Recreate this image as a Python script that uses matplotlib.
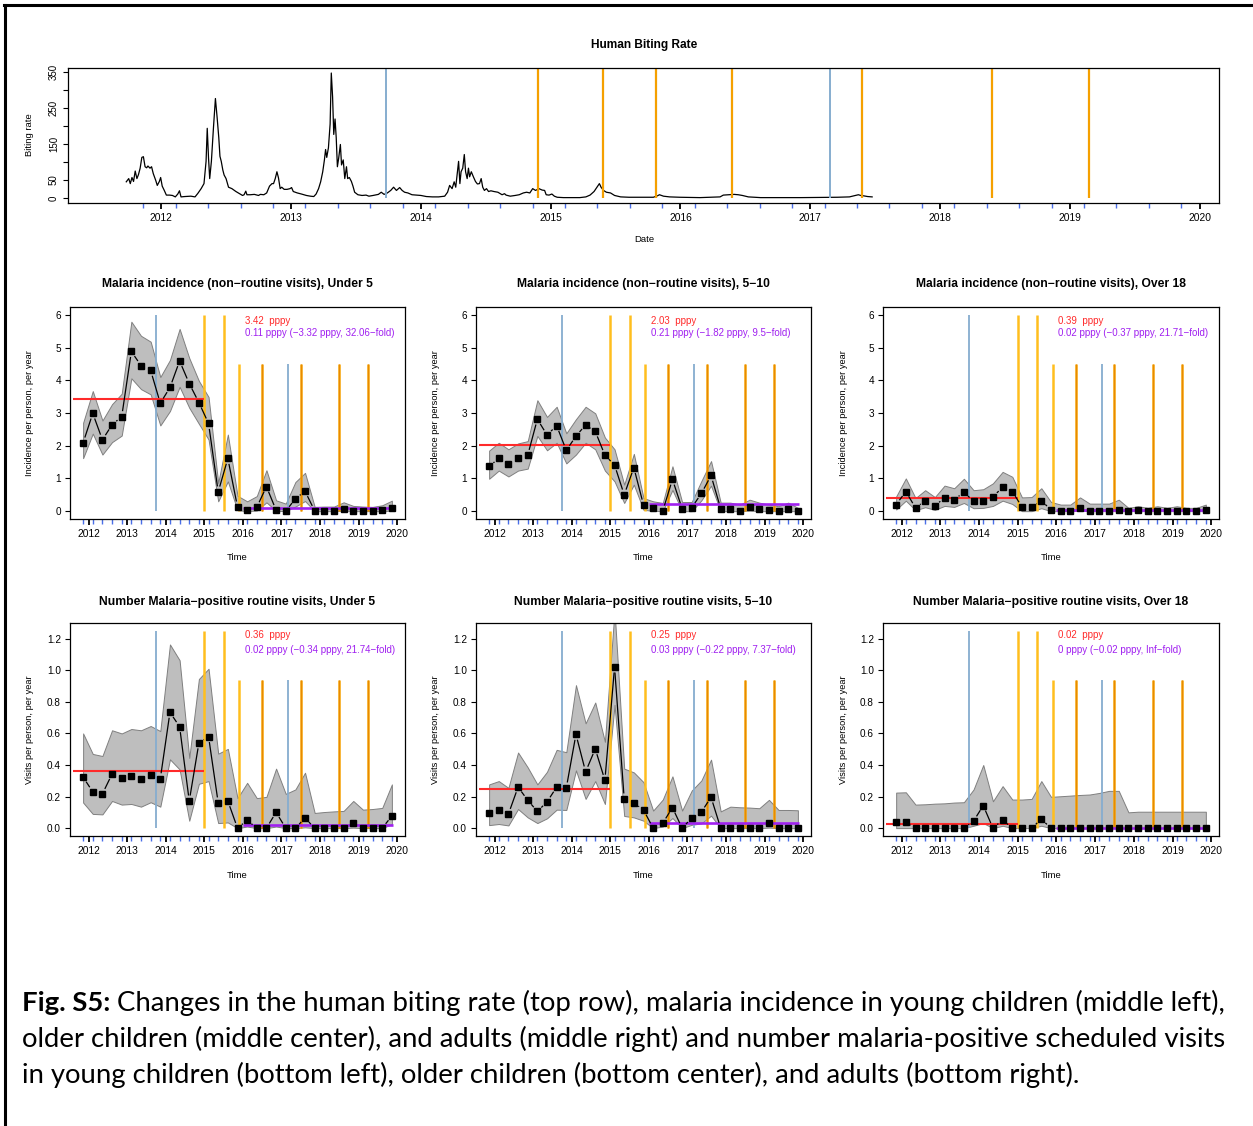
import numpy as np
import matplotlib.pyplot as plt
from matplotlib.lines import Line2D

plt.rcParams['font.family'] = ['Liberation Sans', 'DejaVu Sans']

W, H = 1253, 1126

# ---- human biting rate series (year, rate) ----
hbr_t = [2011.729, 2011.748, 2011.760, 2011.773, 2011.785, 2011.798, 2011.811, 2011.823, 2011.836, 2011.849,
         2011.861, 2011.874, 2011.886, 2011.896, 2011.912, 2011.924, 2011.937, 2011.956, 2011.968, 2011.984,
         2011.994, 2012.006, 2012.022, 2012.038, 2012.063, 2012.085, 2012.107, 2012.126, 2012.139, 2012.151,
         2012.180, 2012.227, 2012.259, 2012.281, 2012.306, 2012.328, 2012.344, 2012.353, 2012.363, 2012.372,
         2012.385, 2012.401, 2012.416, 2012.429, 2012.442, 2012.451, 2012.461, 2012.473, 2012.483, 2012.498,
         2012.517, 2012.543, 2012.574, 2012.606, 2012.625, 2012.637, 2012.650, 2012.659, 2012.685, 2012.716,
         2012.748, 2012.763, 2012.789, 2012.811, 2012.833, 2012.852, 2012.864, 2012.877, 2012.890, 2012.902,
         2012.915, 2012.927, 2012.946, 2012.968, 2012.991, 2013.003, 2013.016, 2013.047, 2013.079, 2013.117,
         2013.148, 2013.174, 2013.192, 2013.211, 2013.227, 2013.243, 2013.256, 2013.265, 2013.274, 2013.287,
         2013.300, 2013.309, 2013.319, 2013.328, 2013.338, 2013.347, 2013.356, 2013.366, 2013.379, 2013.388,
         2013.401, 2013.413, 2013.426, 2013.435, 2013.448, 2013.464, 2013.476, 2013.489, 2013.514, 2013.546,
         2013.577, 2013.599, 2013.631, 2013.672, 2013.694, 2013.716, 2013.741, 2013.767, 2013.789, 2013.811,
         2013.836, 2013.855, 2013.874, 2013.899, 2013.931, 2013.962, 2014.000, 2014.041, 2014.088, 2014.136,
         2014.183, 2014.205, 2014.221, 2014.240, 2014.256, 2014.268, 2014.281, 2014.290, 2014.300, 2014.309,
         2014.322, 2014.334, 2014.344, 2014.356, 2014.366, 2014.375, 2014.388, 2014.404, 2014.420, 2014.435,
         2014.451, 2014.464, 2014.476, 2014.489, 2014.505, 2014.521, 2014.539, 2014.562, 2014.593, 2014.625,
         2014.644, 2014.656, 2014.688, 2014.726, 2014.757, 2014.789, 2014.814, 2014.839, 2014.861, 2014.883,
         2014.909, 2014.934, 2014.953, 2014.965, 2014.987, 2015.009, 2015.028, 2015.050, 2015.098, 2015.161,
         2015.224, 2015.271, 2015.303, 2015.334, 2015.356, 2015.375, 2015.388, 2015.407, 2015.429, 2015.461,
         2015.492, 2015.539, 2015.603, 2015.713, 2015.791, 2015.822, 2015.838, 2015.869, 2015.916, 2015.994,
         2016.150, 2016.305, 2016.330, 2016.368, 2016.414, 2016.445, 2016.477, 2016.523, 2016.617, 2016.928,
         2017.209, 2017.302, 2017.349, 2017.371, 2017.389, 2017.411, 2017.442, 2017.477]
hbr_y = [45, 54, 40, 57, 46, 75, 54, 65, 83, 113,
         115, 87, 84, 89, 83, 87, 68, 49, 35, 46,
         57, 33, 21, 8, 8, 7, 3, 11, 20, 3,
         4, 5, 3, 13, 26, 40, 102, 194, 111, 54,
         102, 196, 277, 225, 168, 116, 102, 78, 64, 54,
         30, 26, 18, 11, 7, 9, 19, 9, 9, 10,
         7, 10, 9, 14, 33, 40, 40, 54, 73, 56,
         26, 30, 24, 24, 26, 29, 18, 14, 11, 7,
         5, 4, 11, 26, 45, 73, 106, 135, 113, 140,
         206, 348, 282, 177, 220, 168, 87, 111, 149, 92,
         106, 54, 87, 54, 57, 46, 33, 16, 9, 7,
         8, 5, 7, 10, 16, 10, 14, 21, 30, 21,
         29, 21, 16, 14, 9, 8, 7, 4, 3, 3,
         5, 16, 35, 26, 45, 30, 73, 102, 40, 73,
         83, 121, 73, 54, 83, 59, 73, 59, 46, 39,
         40, 54, 30, 21, 26, 18, 20, 18, 16, 9,
         12, 8, 5, 7, 9, 14, 16, 14, 26, 21,
         26, 22, 21, 9, 8, 11, 5, 2, 1, 1,
         1, 3, 8, 18, 30, 40, 30, 21, 16, 14,
         7, 3, 2, 2, 2, 6, 9, 5, 3, 2,
         1, 3, 8, 9, 10, 9, 7, 3, 1, 1,
         2, 3, 7, 9, 7, 6, 4, 3]

hbr_blue = [2013.73, 2017.15]
hbr_orange = [2014.905, 2015.40, 2015.815, 2016.40, 2017.40, 2018.40, 2019.15]
hbr_quarters = [2011.86, 2012.11, 2012.36, 2012.61, 2012.86, 2013.11, 2013.36, 2013.61, 2013.86,
                2014.11, 2014.36, 2014.61, 2014.86, 2015.11, 2015.36, 2015.61, 2015.86,
                2016.11, 2016.36, 2016.61, 2016.86, 2017.11, 2017.36, 2017.61, 2017.86,
                2018.11, 2018.36, 2018.61, 2018.86, 2019.11, 2019.36, 2019.61, 2019.86]
years = [2012, 2013, 2014, 2015, 2016, 2017, 2018, 2019, 2020]

# ---- quarterly panels ----
quarters = hbr_quarters

inc_u5 = [2.09, 2.99, 2.18, 2.64, 2.89, 4.88, 4.45, 4.30, 3.30, 3.78, 4.59, 3.90, 3.32, 2.68, 0.59, 1.61, 0.13,
          0.03, 0.12, 0.75, 0.03, 0.00, 0.38, 0.61, 0.01, 0.01, 0.00, 0.07, 0.01, 0.00, 0.00, 0.03, 0.09]
inc_u5_hi = [2.70, 3.67, 2.77, 3.27, 3.59, 5.79, 5.36, 5.18, 4.10, 4.62, 5.57, 4.68, 3.98, 3.49, 0.86, 2.34, 0.47,
             0.30, 0.46, 1.25, 0.33, 0.23, 0.89, 1.17, 0.13, 0.14, 0.14, 0.27, 0.16, 0.14, 0.13, 0.18, 0.32]
inc_u5_lo = [1.62, 2.37, 1.73, 2.11, 2.31, 4.06, 3.73, 3.57, 2.62, 3.06, 3.80, 3.16, 2.67, 2.19, 0.30, 0.91, 0.03,
             0.00, 0.02, 0.27, 0.01, 0.00, 0.14, 0.31, 0.00, 0.00, 0.00, 0.02, 0.00, 0.00, 0.00, 0.00, 0.02]

inc_510 = [1.37, 1.61, 1.44, 1.61, 1.71, 2.81, 2.33, 2.61, 1.86, 2.29, 2.64, 2.44, 1.71, 1.41, 0.50, 1.33, 0.19,
           0.11, 0.01, 0.97, 0.08, 0.11, 0.54, 1.09, 0.08, 0.08, 0.00, 0.12, 0.08, 0.02, 0.00, 0.08, 0.00]
inc_510_hi = [1.85, 2.09, 1.89, 2.07, 2.14, 3.39, 2.88, 3.19, 2.38, 2.81, 3.19, 2.99, 2.25, 1.89, 0.81, 1.75, 0.40,
              0.30, 0.25, 1.37, 0.28, 0.28, 0.92, 1.53, 0.26, 0.26, 0.20, 0.35, 0.26, 0.20, 0.15, 0.26, 0.10]
inc_510_lo = [0.99, 1.24, 1.06, 1.24, 1.30, 2.30, 1.86, 2.09, 1.46, 1.73, 2.09, 1.89, 1.24, 0.91, 0.25, 0.81, 0.04,
              0.01, 0.00, 0.65, 0.00, 0.00, 0.33, 0.78, 0.00, 0.00, 0.00, 0.02, 0.00, 0.00, 0.00, 0.00, 0.00]

inc_o18 = [0.20, 0.60, 0.10, 0.32, 0.16, 0.41, 0.35, 0.58, 0.30, 0.32, 0.44, 0.73, 0.60, 0.13, 0.13, 0.32, 0.04,
           0.00, 0.00, 0.10, 0.00, 0.00, 0.00, 0.04, 0.00, 0.02, 0.00, 0.01, 0.00, 0.01, 0.00, 0.00, 0.04]
inc_o18_hi = [0.45, 1.00, 0.40, 0.64, 0.43, 0.78, 0.70, 0.99, 0.64, 0.67, 0.85, 1.20, 1.05, 0.42, 0.43, 0.70, 0.28,
              0.20, 0.20, 0.42, 0.23, 0.23, 0.23, 0.35, 0.10, 0.15, 0.10, 0.15, 0.10, 0.15, 0.10, 0.10, 0.20]
inc_o18_lo = [0.05, 0.32, 0.03, 0.12, 0.04, 0.16, 0.13, 0.25, 0.09, 0.10, 0.16, 0.32, 0.22, 0.00, 0.00, 0.09, 0.00,
              0.00, 0.00, 0.01, 0.00, 0.00, 0.00, 0.00, 0.00, 0.00, 0.00, 0.00, 0.00, 0.00, 0.00, 0.00, 0.00]

rv_u5 = [0.323, 0.230, 0.217, 0.343, 0.317, 0.332, 0.313, 0.338, 0.313, 0.734, 0.643, 0.172, 0.540, 0.580, 0.160,
         0.172, 0.000, 0.050, 0.000, 0.000, 0.100, 0.000, 0.000, 0.064, 0.000, 0.000, 0.000, 0.000, 0.032, 0.000,
         0.000, 0.000, 0.077]
rv_u5_hi = [0.600, 0.470, 0.457, 0.620, 0.600, 0.628, 0.620, 0.647, 0.615, 1.164, 1.064, 0.445, 0.945, 1.010, 0.472,
            0.502, 0.190, 0.287, 0.190, 0.198, 0.377, 0.217, 0.245, 0.351, 0.096, 0.102, 0.106, 0.109, 0.172, 0.117,
            0.121, 0.128, 0.277]
rv_u5_lo = [0.162, 0.090, 0.087, 0.172, 0.149, 0.153, 0.136, 0.164, 0.136, 0.436, 0.372, 0.047, 0.281, 0.298, 0.032,
            0.036, 0.000, 0.010, 0.000, 0.000, 0.010, 0.000, 0.000, 0.005, 0.000, 0.000, 0.000, 0.000, 0.003, 0.000,
            0.000, 0.000, 0.025]

rv_510 = [0.096, 0.115, 0.089, 0.260, 0.177, 0.106, 0.166, 0.260, 0.255, 0.594, 0.357, 0.502, 0.304, 1.021, 0.185,
          0.160, 0.115, 0.000, 0.032, 0.130, 0.000, 0.064, 0.102, 0.196, 0.000, 0.000, 0.000, 0.000, 0.000, 0.032,
          0.000, 0.000, 0.000]
rv_510_hi = [0.277, 0.298, 0.255, 0.479, 0.385, 0.277, 0.357, 0.496, 0.481, 0.906, 0.664, 0.796, 0.547, 1.380, 0.377,
             0.353, 0.291, 0.111, 0.181, 0.328, 0.111, 0.238, 0.302, 0.434, 0.106, 0.136, 0.132, 0.130, 0.126, 0.179,
             0.115, 0.115, 0.113]
rv_510_lo = [0.019, 0.026, 0.017, 0.121, 0.068, 0.032, 0.062, 0.117, 0.115, 0.366, 0.185, 0.298, 0.153, 0.781, 0.077,
             0.068, 0.047, 0.000, 0.010, 0.064, 0.000, 0.021, 0.030, 0.079, 0.000, 0.000, 0.000, 0.000, 0.000, 0.003,
             0.000, 0.000, 0.000]

rv_o18 = [0.040, 0.040, 0.000, 0.000, 0.000, 0.000, 0.000, 0.000, 0.045, 0.143, 0.000, 0.051, 0.000, 0.000, 0.000,
          0.057, 0.000, 0.000, 0.000, 0.000, 0.000, 0.000, 0.000, 0.000, 0.000, 0.000, 0.000, 0.000, 0.000, 0.000,
          0.000, 0.000, 0.000]
rv_o18_hi = [0.225, 0.227, 0.149, 0.151, 0.155, 0.157, 0.162, 0.164, 0.245, 0.400, 0.170, 0.266, 0.181, 0.181, 0.185,
             0.298, 0.198, 0.202, 0.206, 0.210, 0.213, 0.223, 0.236, 0.236, 0.100, 0.104, 0.104, 0.104, 0.104, 0.104,
             0.104, 0.104, 0.104]
rv_o18_lo = [0.000, 0.000, 0.000, 0.000, 0.000, 0.000, 0.000, 0.000, 0.015, 0.032, 0.000, 0.015, 0.000, 0.000, 0.000,
             0.015, 0.000, 0.000, 0.000, 0.000, 0.000, 0.000, 0.000, 0.000, 0.000, 0.000, 0.000, 0.000, 0.000, 0.000,
             0.000, 0.000, 0.000]

pre_mean = [3.42, 2.03, 0.39, 0.36, 0.25, 0.024]
post_mean = [0.11, 0.21, 0.02, 0.02, 0.03, 0.0015]
red_text = ["3.42  pppy", "2.03  pppy", "0.39  pppy", "0.36  pppy", "0.25  pppy", "0.02  pppy"]
purple_text = ["0.11 pppy (\u22123.32 pppy, 32.06\u2212fold)", "0.21 pppy (\u22121.82 pppy, 9.5\u2212fold)",
               "0.02 pppy (\u22120.37 pppy, 21.71\u2212fold)", "0.02 pppy (\u22120.34 pppy, 21.74\u2212fold)",
               "0.03 pppy (\u22120.22 pppy, 7.37\u2212fold)", "0 pppy (\u22120.02 pppy, Inf\u2212fold)"]
titles = ["Malaria incidence (non\u2212routine visits), Under 5",
          "Malaria incidence (non\u2212routine visits), 5\u221210",
          "Malaria incidence (non\u2212routine visits), Over 18",
          "Number Malaria\u2212positive routine visits, Under 5",
          "Number Malaria\u2212positive routine visits, 5\u221210",
          "Number Malaria\u2212positive routine visits, Over 18"]

# intervention dates on the quarterly panels
blue_full, blue_short = [2013.74], [2017.17]
gold_full, gold_short = [2015.0, 2015.5], [2015.9]
orange_short = [2016.5, 2017.5, 2018.5, 2019.25]
pre_span = (2011.6, 2015.0)
post_span = (2016.0, 2019.9)

BLUE = '#86ADCF'
GOLD = '#FFBE1E'
ORANGE = '#F5A000'
RED = '#FF2A2A'
PURPLE = '#A020F0'
TICKBLUE = '#4A6FE8'

fig = plt.figure(figsize=(W / 100, H / 100), dpi=100)


def px_rect(l, t, r, b):
    return [l / W, 1 - b / H, (r - l) / W, (b - t) / H]


def fx(x):
    return x / W


def fy(y):
    return 1 - y / H


def style_xaxis(ax, minor_pos):
    ax.set_xticks(years)
    ax.set_xticklabels([str(y) for y in years])
    ax.set_xticks(minor_pos, minor=True)
    ax.tick_params(axis='x', which='major', direction='out', length=4.5, width=1.3, color='black',
                   labelsize=7.4, pad=3)
    ax.tick_params(axis='x', which='minor', direction='out', length=3.8, width=1.0, color=TICKBLUE)
    for s in ax.spines.values():
        s.set_linewidth(0.9)


def type_b(ax, x, y, gap=5.5):
    # lines between points with a gap around each point (like R type="b")
    pts = ax.transData.transform(np.column_stack([x, y]))
    inv = ax.transData.inverted()
    for p0, p1 in zip(pts[:-1], pts[1:]):
        d = p1 - p0
        L = np.hypot(d[0], d[1])
        if L <= 2 * gap + 0.5:
            continue
        u = d / L
        a = inv.transform(p0 + u * gap)
        b = inv.transform(p1 - u * gap)
        ax.plot([a[0], b[0]], [a[1], b[1]], color='black', lw=0.9, solid_capstyle='butt')


# ---- top panel ----
ax0 = fig.add_axes(px_rect(68, 68, 1219, 203))
ax0.plot(hbr_t, hbr_y, color='black', lw=0.9)
ax0.vlines(hbr_blue, 0, 400, color=BLUE, lw=1.4)
ax0.vlines(hbr_orange, 0, 400, color=ORANGE, lw=1.6)
ax0.set_xlim(2011.28, 2020.15)
ax0.set_ylim(-14, 362)
ax0.set_yticks([0, 50, 100, 150, 200, 250, 300, 350])
ax0.set_yticklabels(['0', '50', '', '150', '', '250', '', '350'], rotation=90, va='center')
ax0.tick_params(axis='y', direction='out', length=3.5, width=0.8, labelsize=7.0, pad=3)
style_xaxis(ax0, hbr_quarters)
fig.text(fx(644), fy(45), "Human Biting Rate", ha='center', va='center', fontsize=8.6, fontweight='bold')
fig.text(fx(644), fy(240), "Date", ha='center', va='center', fontsize=6.8)
fig.text(fx(30), fy(135), "Biting rate", ha='center', va='center', rotation=90, fontsize=6.8)

# ---- quarterly panels ----
panels = [
    (inc_u5, inc_u5_lo, inc_u5_hi),
    (inc_510, inc_510_lo, inc_510_hi),
    (inc_o18, inc_o18_lo, inc_o18_hi),
    (rv_u5, rv_u5_lo, rv_u5_hi),
    (rv_510, rv_510_lo, rv_510_hi),
    (rv_o18, rv_o18_lo, rv_o18_hi),
]
col_x = [(70, 405), (476, 811), (883, 1219)]
row_y = [(307, 519), (623, 836)]
row_title_y = [284, 602]
row_time_y = [558, 875]

for i, (est, lo, hi) in enumerate(panels):
    r, c = divmod(i, 3)
    l, rr = col_x[c]
    t, b = row_y[r]
    ax = fig.add_axes(px_rect(l, t, rr, b))
    if r == 0:
        top, ylim = 6.0, (-0.24, 6.24)
        yt = [0, 1, 2, 3, 4, 5, 6]
        ytl = [str(v) for v in yt]
        ylab = "Incidence per person, per year"
        ann_y = (5.8, 5.43)
    else:
        top, ylim = 1.25, (-0.05, 1.30)
        yt = [0.0, 0.2, 0.4, 0.6, 0.8, 1.0, 1.2]
        ytl = ['%.1f' % v for v in yt]
        ylab = "Visits per person, per year"
        ann_y = (1.222, 1.127)
    short = top * 0.75

    ax.fill_between(quarters, lo, hi, facecolor='#BEBEBE', edgecolor='#7F7F7F', lw=0.7)
    ax.vlines(blue_full, 0, top, color=BLUE, lw=1.3)
    ax.vlines(blue_short, 0, short, color=BLUE, lw=1.3)
    ax.vlines(gold_full, 0, top, color=GOLD, lw=1.8)
    ax.vlines(gold_short, 0, short, color=GOLD, lw=1.8)
    ax.vlines(orange_short, 0, short, color=ORANGE, lw=1.8)
    ax.vlines(orange_short, 0, short, color='#E88A00', lw=0.7)
    ax.hlines(pre_mean[i], pre_span[0], pre_span[1], color=RED, lw=1.5)
    ax.hlines(post_mean[i], post_span[0], post_span[1], color=PURPLE, lw=1.9)

    ax.set_xlim(2011.52, 2020.20)
    ax.set_ylim(*ylim)
    ax.set_autoscale_on(False)
    type_b(ax, quarters, est)
    ax.plot(quarters, est, ls='none', marker='s', ms=5.0, color='black', zorder=5)

    ax.set_yticks(yt)
    ax.set_yticklabels(ytl)
    ax.tick_params(axis='y', direction='out', length=3.5, width=0.8, labelsize=7.2, pad=3)
    style_xaxis(ax, quarters)

    ax.text(2016.05, ann_y[0], red_text[i], color=RED, fontsize=7.0, ha='left', va='center')
    ax.text(2016.05, ann_y[1], purple_text[i], color=PURPLE, fontsize=7.0, ha='left', va='center')

    cx = (l + rr) / 2
    fig.text(fx(cx), fy(row_title_y[r]), titles[i], ha='center', va='center', fontsize=8.7, fontweight='bold')
    fig.text(fx(cx), fy(row_time_y[r]), "Time", ha='center', va='center', fontsize=6.8)
    fig.text(fx(l - 40), fy((t + b) / 2), ylab, ha='center', va='center', rotation=90, fontsize=6.7)

# ---- frame lines ----
fig.add_artist(Line2D([fx(5), fx(5)], [0, fy(5)], color='black', lw=2.2, transform=fig.transFigure))
fig.add_artist(Line2D([fx(4), 1], [fy(5), fy(5)], color='black', lw=2.2, transform=fig.transFigure))

# ---- caption ----
cap_family = ['Lato', 'Open Sans', 'DejaVu Sans']
cap_bold = "Fig. S5:"
cap_lines = [" Changes in the human biting rate (top row), malaria incidence in young children (middle left),",
             "older children (middle center), and adults (middle right) and number malaria-positive scheduled visits",
             "in young children (bottom left), older children (bottom center), and adults (bottom right)."]
renderer = fig.canvas.get_renderer()
probe = fig.text(0, 0, cap_lines[1], fontsize=20, family=cap_family)
w0 = probe.get_window_extent(renderer).width
probe.remove()
cap_size = 20 * 1208 / w0
base_y = [1011, 1047, 1083]
tb = fig.text(fx(22), fy(base_y[0]), cap_bold, fontsize=cap_size, family=cap_family, fontweight='bold',
              va='baseline')
wb = tb.get_window_extent(renderer).width
fig.text(fx(22 + wb), fy(base_y[0]), cap_lines[0], fontsize=cap_size, family=cap_family, va='baseline')
fig.text(fx(22), fy(base_y[1]), cap_lines[1], fontsize=cap_size, family=cap_family, va='baseline')
fig.text(fx(22), fy(base_y[2]), cap_lines[2], fontsize=cap_size, family=cap_family, va='baseline')

fig.savefig('out.png', dpi=100)
